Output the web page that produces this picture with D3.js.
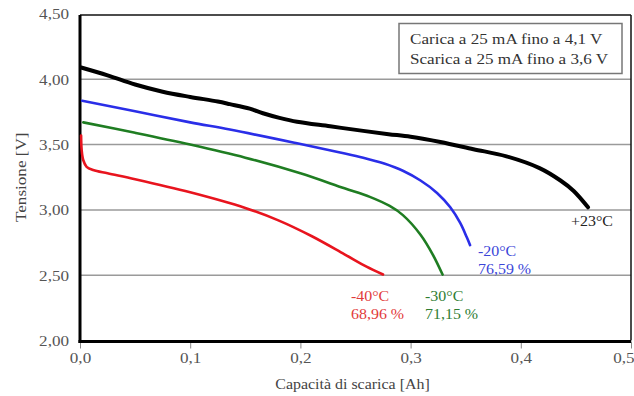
<!DOCTYPE html>
<html><head><meta charset="utf-8">
<script src="https://cdn.jsdelivr.net/npm/d3@7"></script>
<style>body{margin:0;background:#fff}svg{display:block}</style>
</head><body>
<svg id="c" width="634" height="396"></svg>
<script>
const xTicks = [0, 0.1, 0.2, 0.3, 0.4, 0.5];
const xTickLabels = ["0,0", "0,1", "0,2", "0,3", "0,4", "0,5"];
const yTicks = [2.0, 2.5, 3.0, 3.5, 4.0, 4.5];
const yTickLabels = ["2,00", "2,50", "3,00", "3,50", "4,00", "4,50"];

const seriesNames = ["+23°C", "-20°C", "-30°C", "-40°C"];
const seriesPct = ["", "76,59 %", "71,15 %", "68,96 %"];

const cap23 = [0.001,0.025,0.05,0.075,0.10,0.125,0.136,0.154,0.166,0.181,0.197,0.227,0.257,0.28,0.30,0.327,0.357,0.387,0.417,0.436,0.448,0.461];
const v23   = [4.09,4.03,3.96,3.905,3.865,3.83,3.81,3.775,3.74,3.705,3.675,3.64,3.605,3.58,3.56,3.52,3.465,3.41,3.32,3.225,3.145,3.02];

const cap20 = [0.002,0.05,0.10,0.136,0.197,0.236,0.257,0.276,0.293,0.309,0.324,0.336,0.345,0.351,0.354];
const v20   = [3.835,3.755,3.67,3.615,3.51,3.44,3.40,3.355,3.30,3.225,3.13,3.02,2.90,2.79,2.73];

const cap30 = [0.003,0.05,0.10,0.15,0.20,0.24,0.263,0.281,0.293,0.309,0.320,0.329];
const v30   = [3.67,3.59,3.50,3.40,3.28,3.165,3.10,3.03,2.96,2.81,2.66,2.505];

const cap40 = [0.001,0.0015,0.003,0.006,0.012,0.025,0.05,0.10,0.15,0.18,0.21,0.24,0.26,0.275];
const v40   = [3.57,3.46,3.38,3.33,3.305,3.28,3.235,3.135,3.015,2.92,2.80,2.66,2.565,2.505];

const legendLines = ["Carica a 25 mA fino a 4,1 V", "Scarica a 25 mA fino a 3,6 V"];

const lineColors = ["#000000", "#2a2ee8", "#1f7d22", "#e8141e"];
const labelColors = ["#222222", "#3a45d8", "#2e7d32", "#e23a3a"];

const svg = d3.select("#c");
const L = 80, R = 631, T = 14, B = 340.5;
const x = d3.scaleLinear().domain([0, 0.5]).range([L, R]);
const y = d3.scaleLinear().domain([2, 4.5]).range([B, T]);

const font = "'Liberation Serif', 'Times New Roman', serif";
const SX = 1.14;
function stretch(sel) {
  sel.each(function () {
    const t = d3.select(this);
    const x0 = +(t.attr("x") || 0);
    t.attr("x", x0 / SX);
    const tr = t.attr("transform") || "";
    t.attr("transform", tr + ` scale(${SX},1)`);
    t.selectAll("tspan").each(function () {
      const s = d3.select(this);
      if (s.attr("x") !== null) s.attr("x", +s.attr("x") / SX);
    });
  });
}

// gridlines
svg.append("g").selectAll("line").data(yTicks.filter(v => v > 2 && v < 4.5)).join("line")
  .attr("x1", L).attr("x2", R).attr("y1", d => y(d)).attr("y2", d => y(d))
  .attr("stroke", "#9a9a9a").attr("stroke-width", 1.5);

// x axis
const xAxis = d3.axisBottom(x).tickValues(xTicks).tickFormat((d, i) => xTickLabels[i]).tickSize(7).tickSizeOuter(0);
const gx = svg.append("g").attr("transform", `translate(0,${B + 1})`).call(xAxis);
gx.select(".domain").remove();
gx.selectAll(".tick line").attr("stroke", "#888").attr("stroke-width", 1);
gx.selectAll(".tick text").attr("font-family", font).attr("font-size", 15).attr("fill", "#555").attr("dy", "0.9em").attr("y", 8);
gx.selectAll(".tick text").filter((d, i) => i === xTicks.length - 1).attr("text-anchor", "end").attr("x", 3);
stretch(gx.selectAll(".tick text"));

// y axis
const yAxis = d3.axisLeft(y).tickValues(yTicks).tickFormat((d, i) => yTickLabels[i]).tickSize(0).tickPadding(11);
const gy = svg.append("g").attr("transform", `translate(${L},0)`).call(yAxis);
gy.select(".domain").remove();
gy.selectAll(".tick text").attr("font-family", font).attr("font-size", 15).attr("fill", "#555");
stretch(gy.selectAll(".tick text"));

// frame
svg.append("line").attr("x1", L).attr("x2", R).attr("y1", T + 1).attr("y2", T + 1).attr("stroke", "#111").attr("stroke-width", 1.5);
svg.append("line").attr("x1", R).attr("x2", R).attr("y1", T + 1).attr("y2", B).attr("stroke", "#111").attr("stroke-width", 1.5);
svg.append("line").attr("x1", L - 1.5).attr("x2", R).attr("y1", B + 1).attr("y2", B + 1).attr("stroke", "#000").attr("stroke-width", 3);
svg.append("line").attr("x1", L).attr("x2", L).attr("y1", T + 1).attr("y2", B + 2.5).attr("stroke", "#000").attr("stroke-width", 3);

// curves
const line = d3.line().x(d => x(d[0])).y(d => y(d[1])).curve(d3.curveCatmullRom.alpha(0.5));
const series = [[cap23, v23], [cap20, v20], [cap30, v30], [cap40, v40]];
const widths = [4, 2.6, 2.6, 2.6];
series.forEach((s, i) => {
  const pts = s[0].map((c, j) => [c, s[1][j]]);
  svg.append("path").datum(pts).attr("d", line).attr("fill", "none")
    .attr("stroke", lineColors[i]).attr("stroke-width", widths[i]).attr("stroke-linejoin", "round").attr("stroke-linecap", "round");
});

// series labels
const labelPos = [[571, 226], [478, 256], [425, 301], [351, 301]];
labelPos.forEach((p, i) => {
  const t = svg.append("text").attr("x", p[0]).attr("y", p[1]).attr("font-family", font).attr("font-size", 14).attr("fill", labelColors[i]);
  t.append("tspan").attr("x", p[0]).text(seriesNames[i]);
  if (seriesPct[i]) t.append("tspan").attr("x", p[0]).attr("dy", 18).text(seriesPct[i]);
  stretch(t);
});

// legend box
svg.append("rect").attr("x", 399).attr("y", 23.5).attr("width", 223).attr("height", 50)
  .attr("fill", "#fff").attr("stroke", "#777").attr("stroke-width", 1.5);
const lg = svg.append("g").selectAll("text").data(legendLines).join("text")
  .attr("x", 410).attr("y", (d, i) => 44 + i * 20).attr("font-family", font).attr("font-size", 15).attr("fill", "#333").text(d => d);
stretch(lg);

// axis titles
svg.append("text").attr("transform", `translate(26,${(T + B) / 2}) rotate(-90) scale(${SX},1)`).attr("text-anchor", "middle")
  .attr("font-family", font).attr("font-size", 15).attr("fill", "#444").text("Tensione [V]");
const xt = svg.append("text").attr("x", (L + R) / 2 - 3).attr("y", 389).attr("text-anchor", "middle")
  .attr("font-family", font).attr("font-size", 14).attr("fill", "#444").text("Capacità di scarica [Ah]");
stretch(xt);
</script>
</body></html>
